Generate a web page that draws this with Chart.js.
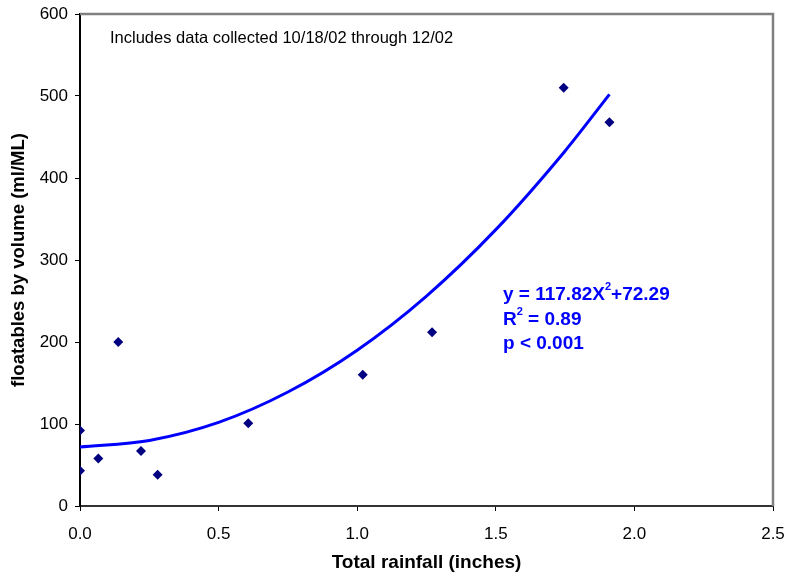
<!DOCTYPE html>
<html>
<head>
<meta charset="utf-8">
<script src="https://cdn.jsdelivr.net/npm/chart.js@4"></script>
<style>
    html, body { margin: 0; padding: 0; background: #fff; }
    #wrap { width: 788px; height: 578px; }
</style>
</head>
<body>
<div id="wrap"><canvas id="rainChart" width="788" height="578"></canvas></div>
<script>
// Observed samples
const rainfall = [0.0, 0.0, 0.066, 0.138, 0.22, 0.28, 0.607, 1.02, 1.27, 1.745, 1.91];
const floatables = [92, 43, 58, 200, 67, 38, 101, 160, 212, 510, 468];

// Trend line
const trendX = [0.0, 0.25, 0.5, 0.75, 1.0, 1.25, 1.5, 1.75, 1.91];
const trendY = [72, 80, 102, 139, 190, 256, 337, 433, 502];

const xTicks = [0.0, 0.5, 1.0, 1.5, 2.0, 2.5];
const yTicks = [0, 100, 200, 300, 400, 500, 600];

const noteText = "Includes data collected 10/18/02 through 12/02";

const FONT = "'Liberation Sans', Arial, sans-serif";

// draws "base" + superscript "2" + "rest"
function supText(ctx, x, y, base, rest) {
    ctx.font = "bold 19px " + FONT;
    ctx.fillText(base, x, y);
    let w = ctx.measureText(base).width;
    ctx.font = "bold 11px " + FONT;
    ctx.fillText("2", x + w, y - 8);
    w += ctx.measureText("2").width;
    ctx.font = "bold 19px " + FONT;
    ctx.fillText(rest, x + w, y);
}

// grey frame on top/right + text notes
const framePlugin = {
    id: "frame",
    afterDatasetsDraw(chart) {
        const { ctx, chartArea: a } = chart;
        ctx.save();
        ctx.strokeStyle = "#808080";
        ctx.lineWidth = 2.5;
        ctx.beginPath();
        ctx.moveTo(a.left, a.top);
        ctx.lineTo(a.right, a.top);
        ctx.lineTo(a.right, a.bottom);
        ctx.stroke();

        ctx.fillStyle = "#000";
        ctx.font = "16.5px " + FONT;
        ctx.textBaseline = "middle";
        ctx.fillText(noteText, 110, 38);

        ctx.fillStyle = "#0000ff";
        supText(ctx, 503, 295, "y = 117.82X", "+72.29");
        supText(ctx, 503, 320, "R", " = 0.89");
        ctx.font = "bold 19px " + FONT;
        ctx.fillText("p < 0.001", 503, 344);
        ctx.restore();
    },
};

// keep the plot box where the reference has it
function noEdgePad(s) {
    s.paddingLeft = 0;
    s.paddingRight = 0;
    s.paddingTop = 0;
    s.paddingBottom = 0;
}

const ctx = document.getElementById("rainChart");
new Chart(ctx, {
    type: "scatter",
    data: {
        datasets: [
            {
                label: "Trend",
                type: "line",
                data: trendX.map((x, i) => ({ x, y: trendY[i] })),
                borderColor: "#0000ff",
                borderWidth: 3,
                pointRadius: 0,
                cubicInterpolationMode: "monotone",
                fill: false,
                order: 2,
            },
            {
                label: "Floatables",
                data: rainfall.map((x, i) => ({ x, y: floatables[i] })),
                pointStyle: "rectRot",
                pointRadius: 5,
                backgroundColor: "#000080",
                borderColor: "#000080",
                borderWidth: 0,
                order: 1,
            },
        ],
    },
    options: {
        responsive: false,
        animation: false,
        layout: { padding: { top: 14, right: 15, left: 0, bottom: 0 } },
        plugins: {
            legend: { display: false },
            tooltip: { enabled: false },
        },
        scales: {
            x: {
                type: "linear",
                min: 0,
                max: 2.5,
                afterBuildTicks: (s) => { s.ticks = xTicks.map((v) => ({ value: v })); },
                afterFit: (s) => { s.height = 72; noEdgePad(s); },
                grid: { drawOnChartArea: false, drawTicks: true, tickLength: 5, color: "#000" },
                border: { color: "#333", width: 2 },
                ticks: {
                    color: "#000",
                    padding: 13,
                    font: { family: FONT, size: 17, lineHeight: 1.2 },
                    callback: (v) => Number(v).toFixed(1),
                },
                title: {
                    display: true,
                    text: "Total rainfall (inches)",
                    color: "#000",
                    font: { family: FONT, size: 19, weight: "bold", lineHeight: 1.2 },
                    padding: { top: 0, bottom: 4 },
                },
            },
            y: {
                min: 0,
                max: 600,
                afterBuildTicks: (s) => { s.ticks = yTicks.map((v) => ({ value: v })); },
                afterFit: (s) => { s.width = 80; noEdgePad(s); },
                grid: { drawOnChartArea: false, drawTicks: true, tickLength: 5, color: "#000" },
                border: { color: "#000", width: 2 },
                ticks: {
                    color: "#000",
                    padding: 7,
                    font: { family: FONT, size: 17, lineHeight: 1.2 },
                },
                title: {
                    display: true,
                    text: "floatables by volume (ml/ML)",
                    color: "#000",
                    font: { family: FONT, size: 18.5, weight: "bold", lineHeight: 1.2 },
                    padding: { top: 8, bottom: 0 },
                },
            },
        },
    },
    plugins: [framePlugin],
});
</script>
</body>
</html>
